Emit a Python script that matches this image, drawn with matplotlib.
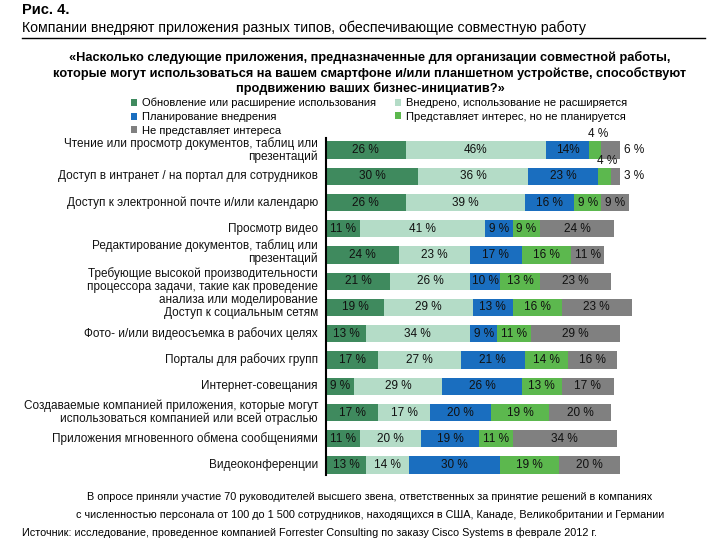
import numpy as np
import matplotlib.pyplot as plt
from matplotlib.lines import Line2D

plt.rcParams['font.family'] = ['Liberation Sans', 'DejaVu Sans']

# Категории (сверху вниз)
apps = [
    "Чтение или просмотр документов, таблиц или\nпрезентаций",
    "Доступ в интранет / на портал для сотрудников",
    "Доступ к электронной почте и/или календарю",
    "Просмотр видео",
    "Редактирование документов, таблиц или\nпрезентаций",
    "Требующие высокой производительности\nпроцессора задачи, такие как проведение\nанализа или моделирование",
    "Доступ к социальным сетям",
    "Фото- и/или видеосъемка в рабочих целях",
    "Порталы для рабочих групп",
    "Интернет-совещания",
    "Создаваемые компанией приложения, которые могут\nиспользоваться компанией или всей отраслью",
    "Приложения мгновенного обмена сообщениями",
    "Видеоконференции",
]

upgrade = [26, 30, 26, 11, 24, 21, 19, 13, 17, 9, 17, 11, 13]
deployed = [46, 36, 39, 41, 23, 26, 29, 34, 27, 29, 17, 20, 14]
planning = [14, 23, 16, 9, 17, 10, 13, 9, 21, 26, 20, 19, 30]
interest = [4, 4, 9, 9, 16, 13, 16, 11, 14, 13, 19, 11, 19]
no_interest = [6, 3, 9, 24, 11, 23, 23, 29, 16, 17, 20, 34, 20]

series_names = [
    "Обновление или расширение использования",
    "Внедрено, использование не расширяется",
    "Планирование внедрения",
    "Представляет интерес, но не планируется",
    "Не представляет интереса",
]
colors = ["#3f8a5e", "#b4dcc7", "#1a6ebf", "#5cb84e", "#808080"]

# подписи без пробела перед знаком %, как в оригинале
nospace = {(0, 1), (0, 2)}

fig = plt.figure(figsize=(7.2, 5.4), dpi=100)
ax = fig.add_axes([326 / 720, 1 - 475 / 540, 306 / 720, (475 - 138) / 540])

series = [upgrade, deployed, planning, interest, no_interest]
y = np.arange(len(apps))
left = np.zeros(len(apps))
handles = []
for k, (vals, color, name) in enumerate(zip(series, colors, series_names)):
    vals = np.array(vals, dtype=float)
    bars = ax.barh(y, vals, left=left, height=0.66, color=color, label=name)
    handles.append(bars)
    labels = []
    for i, v in enumerate(vals):
        if v < 7:
            labels.append("")
            if k == 3:
                ax.text(left[i] + v / 2 + 0.8, i - 0.6, f"{int(v)} %", ha='center', va='center',
                        fontsize=8.5, color='#111111')
            else:
                ax.text(left[i] + v + 1.3, i, f"{int(v)} %", ha='left', va='center',
                        fontsize=8.5, color='#111111')
        elif (i, k) in nospace:
            labels.append(f"{int(v)}%")
        else:
            labels.append(f"{int(v)} %")
    ax.bar_label(bars, labels=labels, label_type='center', fontsize=8.5, color='#111111')
    left += vals

ax.set_xlim(0, 100)
ax.set_ylim(12 + 10 / 26.25, -12 / 26.25)
ax.set_xticks([])
ax.set_yticks([])
for s in ['top', 'right', 'bottom']:
    ax.spines[s].set_visible(False)
ax.spines['left'].set_linewidth(1.5)
ax.spines['left'].set_color('black')

# подписи категорий слева (некоторые сдвинуты, как в оригинале)
label_shift = {4: -0.12, 5: 0.2, 6: 0.22}
for i, name in enumerate(apps):
    ax.text(-8 / 306, i + label_shift.get(i, 0), name, transform=ax.get_yaxis_transform(),
            ha='right', va='center', fontsize=8.5, linespacing=1.1, color='#111111')

# Легенда в два столбца
kw = dict(loc='upper left', frameon=False, fontsize=8, handlelength=0.5, handleheight=0.6,
          handletextpad=0.5, labelspacing=0.32, borderaxespad=0, borderpad=0)
fig.legend([handles[0], handles[2], handles[4]], [series_names[0], series_names[2], series_names[4]],
           bbox_to_anchor=(131 / 720, 1 - 98 / 540), **kw)
fig.legend([handles[1], handles[3]], [series_names[1], series_names[3]],
           bbox_to_anchor=(395 / 720, 1 - 98 / 540), **kw)

# Заголовки
fig.text(22 / 720, 1 - 10 / 540, "Рис. 4.", fontsize=10.5, fontweight='bold', va='center')
fig.text(22 / 720, 1 - 28 / 540,
         "Компании внедряют приложения разных типов, обеспечивающие совместную работу",
         fontsize=10.2, va='center')
fig.add_artist(Line2D([22 / 720, 705 / 720], [1 - 38 / 540, 1 - 38 / 540], color='black', lw=1))
fig.text(370 / 720, 1 - 73 / 540,
         "«Насколько следующие приложения, предназначенные для организации совместной работы,\n"
         "которые могут использоваться на вашем смартфоне и/или планшетном устройстве, способствуют\n"
         "продвижению ваших бизнес-инициатив?»",
         fontsize=9.2, fontweight='bold', ha='center', va='center', linespacing=1.25)

# Примечания
fig.text(370 / 720, 1 - 497 / 540,
         "В опросе приняли участие 70 руководителей высшего звена, ответственных за принятие решений в компаниях",
         fontsize=7.8, ha='center', va='center')
fig.text(370 / 720, 1 - 515 / 540,
         "с численностью персонала от 100 до 1 500 сотрудников, находящихся в США, Канаде, Великобритании и Германии",
         fontsize=7.8, ha='center', va='center')
fig.text(22 / 720, 1 - 533 / 540,
         "Источник: исследование, проведенное компанией Forrester Consulting по заказу Cisco Systems в феврале 2012 г.",
         fontsize=7.8, ha='left', va='center')

fig.savefig("out.png", dpi=100)
